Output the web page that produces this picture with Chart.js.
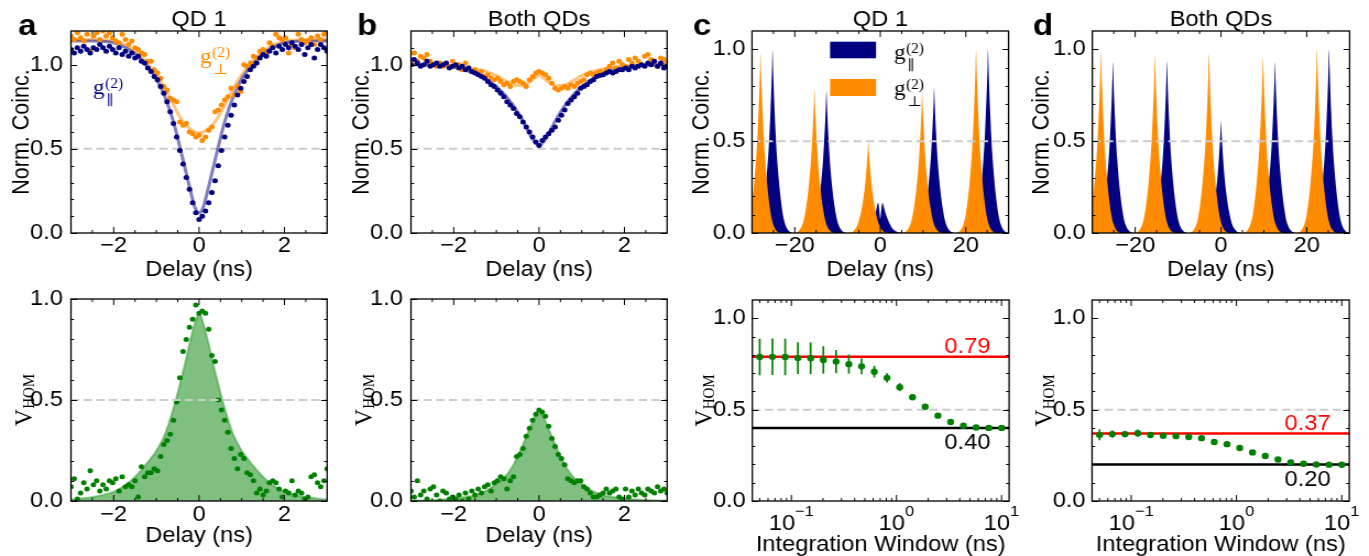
<!DOCTYPE html>
<html><head><meta charset="utf-8">
<script src="https://cdn.jsdelivr.net/npm/chart.js@4.4.1/dist/chart.umd.min.js"></script>
<style>
html,body{margin:0;padding:0;background:#fff;}
#wrap{position:relative;width:1369px;height:556px;overflow:hidden;background:#fff;}
canvas{position:absolute;}
</style></head><body><div id="wrap">
<canvas id="cA1" style="left:0px;top:0px;width:340px;height:282px" width="309" height="282"></canvas>
<canvas id="cB1" style="left:340px;top:0px;width:340px;height:282px" width="309" height="282"></canvas>
<canvas id="cC1" style="left:680px;top:0px;width:340px;height:282px" width="309" height="282"></canvas>
<canvas id="cD1" style="left:1020px;top:0px;width:349px;height:282px" width="317" height="282"></canvas>
<canvas id="cA2" style="left:0px;top:282px;width:340px;height:274px" width="309" height="274"></canvas>
<canvas id="cB2" style="left:340px;top:282px;width:340px;height:274px" width="309" height="274"></canvas>
<canvas id="cC2" style="left:680px;top:282px;width:340px;height:274px" width="309" height="274"></canvas>
<canvas id="cD2" style="left:1020px;top:282px;width:349px;height:274px" width="317" height="274"></canvas>
</div>
<script>
// ================= DATA =================
const delayNs = [-3,-2.925,-2.85,-2.775,-2.7,-2.625,-2.55,-2.475,-2.4,-2.325,-2.25,-2.175,-2.1,-2.025,-1.95,-1.875,-1.8,-1.725,-1.65,-1.575,-1.5,-1.425,-1.35,-1.275,-1.2,-1.125,-1.05,-0.975,-0.9,-0.825,-0.75,-0.675,-0.6,-0.525,-0.45,-0.375,-0.3,-0.225,-0.15,-0.075,0,0.075,0.15,0.225,0.3,0.375,0.45,0.525,0.6,0.675,0.75,0.825,0.9,0.975,1.05,1.125,1.2,1.275,1.35,1.425,1.5,1.575,1.65,1.725,1.8,1.875,1.95,2.025,2.1,2.175,2.25,2.325,2.4,2.475,2.55,2.625,2.7,2.775,2.85,2.925,3];

const qd1ParCoinc = [1.09,1.07,1.10,1.08,1.11,1.09,1.07,1.10,1.09,1.12, 1.10,1.08,1.11,1.09,1.07,1.10,1.06,1.08,1.05,1.07, 1.04,1.05,1.02,1.01,0.98,0.96,0.93,0.91,0.87,0.83, 0.78,0.72,0.65,0.57,0.49,0.41,0.33,0.26,0.18,0.12, 0.08, 0.10,0.13,0.18,0.24,0.31,0.40,0.49,0.57,0.64,0.70, 0.76,0.82,0.86,0.90,0.93,0.97,0.99,1.01,1.04,1.06, 1.05,1.08,1.10,1.07,1.11,1.09,1.12,1.10,1.13,1.11, 1.09,1.12,1.06,1.10,1.12,1.04,1.09,1.12,1.10,1.08];
const qd1PerpCoinc = [1.17,1.15,1.19,1.16,1.14,1.18,1.08,1.17,1.19,1.15, 1.20,1.17,1.19,1.16,1.14,1.13,1.18,1.15,1.12,1.14, 1.10,1.09,1.07,1.06,1.02,1.02,0.97,0.95,0.92,0.87, 0.85,0.80,0.79,0.78,0.66,0.64,0.65,0.60,0.59,0.57, 0.58, 0.55,0.57,0.61,0.63,0.72,0.73,0.76,0.79,0.81,0.86, 0.82,0.87,0.84,1.00,0.99,1.01,1.05,1.04,1.08,1.09, 1.06,1.13,1.11,1.18,1.16,1.15,1.16,1.07,1.12,1.10, 1.18,1.15,1.13,1.14,1.16,1.12,1.17,1.15,1.18,1.19];
const bothParCoinc = [1.00,1.03,1.01,0.99,1.00,1.02,0.99,1.00,1.01,0.99, 1.00,1.01,0.98,0.99,1.00,0.98,0.99,0.97,0.98,0.96, 0.95,0.94,0.93,0.92,0.90,0.88,0.87,0.85,0.83,0.81, 0.78,0.76,0.74,0.71,0.69,0.66,0.63,0.60,0.57,0.54, 0.52, 0.55,0.57,0.59,0.61,0.63,0.67,0.70,0.73,0.77,0.79, 0.81,0.83,0.86,0.87,0.88,0.90,0.91,0.93,0.935,0.94, 0.95,0.96,0.95,0.96,0.97,0.97,0.98,0.97,0.99,0.98, 0.99,1.00,0.99,1.01,1.00,1.02,0.99,1.01,0.98,0.99];
const bothPerpCoinc = [1.01,1.07,1.02,1.05,1.04,1.06,1.02,1.00,0.99,1.01, 0.99,1.00,0.99,1.02,0.99,1.00,0.97,1.01,0.98,0.96, 0.97,0.95,0.96,0.93,0.94,0.92,0.91,0.92,0.90,0.88, 0.89,0.87,0.90,0.91,0.90,0.89,0.87,0.91,0.93,0.95, 0.96, 0.95,0.94,0.92,0.89,0.86,0.85,0.86,0.87,0.86,0.88, 0.87,0.89,0.90,0.91,0.94,0.95,0.94,0.95,0.96,0.95, 0.97,0.99,1.01,0.98,1.02,1.00,0.99,1.03,1.01,1.04, 1.02,1.00,1.05,1.06,1.03,1.02,0.99,1.04,1.03,1.01];
const qd1Vhom = [0.07,0.11,0.01,0.04,0.09,0.06,0.15,0.08,0.10,0.05, 0.08,0.06,0.10,0.09,0.11,0.05,0.12,0.07,0.08,0.07, 0.10,0.02,0.17,0.12,0.14,0.14,0.16,0.15,0.22,0.28, 0.30,0.33,0.40,0.49,0.61,0.74,0.80,0.86,0.90,0.97, 0.93, 0.94,0.93,0.85,0.72,0.69,0.50,0.45,0.40,0.34,0.26, 0.21,0.16,0.23,0.21,0.14,0.13,0.10,0.04,0.06,0.03, 0.05,0.09,0.10,0.09,0.06,0.02,0.05,0.04,0.10,0.03, 0.05,0.04,0.01,0.02,0.12,0.13,0.09,0.07,0.10,0.16];
const bothVhom = [0.05,0.02,0.10,0.03,0.05,0.01,0.06,0.07,0.03,0.00, 0.05,0.04,0.01,0.02,0.01,0.03,0.00,0.04,0.01,0.05, 0.03,0.06,0.04,0.07,0.08,0.05,0.09,0.10,0.12,0.11, 0.06,0.10,0.12,0.22,0.23,0.26,0.32,0.36,0.40,0.43, 0.45, 0.44,0.42,0.37,0.31,0.27,0.23,0.21,0.18,0.11,0.10, 0.09,0.10,0.10,0.07,0.06,0.04,0.02,0.02,0.03,0.04, 0.06,0.04,0.05,0.06,0.02,0.01,0.06,0.02,0.05,0.03, 0.06,0.04,0.03,0.06,0.05,0.04,0.07,0.05,0.06,0.04];

const fitDelayNs = [-3,-2.5,-2,-1.75,-1.5,-1.25,-1,-0.8,-0.6,-0.4,-0.2,-0.1,0,0.1,0.2,0.4,0.6,0.8,1,1.25,1.5,1.75,2,2.5,3];
const qd1ParFit  = [1.14,1.14,1.13,1.105,1.065,1.0,0.915,0.81,0.66,0.46,0.25,0.155,0.12,0.155,0.25,0.46,0.66,0.81,0.915,1.0,1.065,1.105,1.13,1.14,1.14];
const qd1PerpFit = [1.15,1.15,1.14,1.12,1.08,1.02,0.94,0.86,0.76,0.67,0.615,0.60,0.595,0.60,0.615,0.67,0.76,0.86,0.94,1.02,1.08,1.12,1.14,1.15,1.15];
const bothParFit = [1.0,1.0,0.985,0.97,0.945,0.915,0.87,0.82,0.755,0.675,0.58,0.54,0.52,0.54,0.58,0.675,0.755,0.82,0.87,0.915,0.945,0.97,0.985,1.0,1.0];
const bothPerpFit= [1.0,1.0,0.99,0.985,0.975,0.96,0.935,0.905,0.88,0.875,0.9,0.92,0.935,0.92,0.9,0.875,0.88,0.905,0.935,0.96,0.975,0.985,0.99,1.0,1.0];
const qd1VhomFit = [0.008,0.02,0.046,0.075,0.12,0.18,0.25,0.33,0.46,0.62,0.80,0.88,0.93,0.88,0.80,0.62,0.46,0.33,0.25,0.18,0.12,0.075,0.046,0.02,0.008];
const bothVhomFit= [0.002,0.005,0.012,0.02,0.03,0.05,0.085,0.12,0.18,0.27,0.37,0.42,0.45,0.42,0.37,0.27,0.18,0.12,0.085,0.05,0.03,0.02,0.012,0.005,0.002];

// correlation histograms (panels c, d): peak profile
const peakOffsetNs = [-6,-5,-4,-3.5,-3,-2.5,-2,-1.5,-1,-0.75,-0.5,-0.25,-0.1,0,0.1,0.25,0.5,0.75,1,1.5,2,2.5,3,3.5,4,5,6];
const peakShape    = [0,0,0.007,0.02,0.045,0.09,0.17,0.28,0.43,0.53,0.66,0.81,0.92,1,0.92,0.81,0.66,0.53,0.43,0.28,0.17,0.09,0.045,0.02,0.007,0,0];
const perpPeakCenters = [-28.0,-15.4,-2.8,9.8,22.4];
const parPeakCenters  = [-25.2,-12.6,0,12.6,25.2];
const qd1PerpHeights  = [0.98,0.785,0.50,0.76,0.998];
const qd1ParSideCenters = [-25.2,-12.6,12.6,25.2];
const qd1ParSideHeights = [0.995,0.775,0.79,1.0];
const qd1CentralOffsetNs = [-6,-4,-3,-2,-1.5,-1,-0.75,-0.5,-0.25,0,0.25,0.5,0.75,1,1.5,2,3,4,6];
const qd1CentralValues   = [0,0.005,0.02,0.05,0.08,0.12,0.15,0.165,0.13,0.08,0.13,0.165,0.15,0.125,0.09,0.06,0.02,0.005,0];
const bothPerpHeights = [0.985,0.965,0.98,0.958,1.0];
const bothParHeights  = [0.93,0.935,0.61,0.93,1.0];

// integration window (panels c, d bottom)
const windowNs = [0.05,0.06608,0.08733,0.11542,0.15254,0.2016,0.26644,0.35213,0.46538,0.61505,0.81286,1.07429,1.4198,1.87643,2.47992,3.2775,4.33159,5.72469,7.5658,10];
const qd1VhomWin    = [0.788,0.789,0.788,0.782,0.781,0.772,0.763,0.749,0.737,0.708,0.674,0.623,0.568,0.516,0.467,0.432,0.412,0.402,0.400,0.400];
const qd1VhomWinErr = [0.10,0.10,0.10,0.087,0.087,0.075,0.063,0.052,0.043,0.032,0.025,0.022,0.015,0.01,0.008,0.006,0.005,0.004,0.004,0.004];
const bothVhomWin    = [0.362,0.366,0.366,0.371,0.361,0.357,0.355,0.350,0.344,0.323,0.311,0.290,0.266,0.246,0.227,0.211,0.204,0.200,0.199,0.198];
const bothVhomWinErr = [0.03,0.02,0.018,0.02,0.01,0.008,0.006,0.005,0.004,0.004,0.004,0.004,0.004,0.004,0.003,0.003,0.003,0.003,0.003,0.003];
const qd1Levels  = [0.79, 0.40];
const bothLevels = [0.37, 0.20];
const halfLevel = 0.5;

const coincTicks = [0, 0.5, 1.0];
const delayTicks = [-2, 0, 2];
const histTicks  = [-20, 0, 20];
const windowTicks = [0.1, 1, 10];
const windowTickExp = ['\u22121', '0', '1'];

// ================= STYLE / LAYOUT =================
// (canvases are drawn 1.1x narrower and stretched by CSS, like the reference picture)
const SANS = "'Liberation Sans', Arial, Helvetica, sans-serif";
const SERIF = "'Liberation Serif', 'DejaVu Serif', 'Times New Roman', serif";
const FS = 21.5;
Chart.defaults.font.family = SANS;
Chart.defaults.font.size = FS;
Chart.defaults.color = '#000';
const NAVY = '#000080', ORANGE = '#ff8c00', GREEN = '#008000';
const NAVY_FIT = 'rgba(0,0,128,0.5)', ORANGE_FIT = 'rgba(255,140,0,0.5)';
const DASH = '#cccccc';
const delayRange = [-3, 3], histRange = [-30, 30], windowRange = [0.0425, 11.8];

const xy = (xs, ys) => xs.map((x, i) => ({x, y: ys[i]}));
function peakTrain(centers, heights) {
  const pts = [];
  centers.forEach((c, k) => peakOffsetNs.forEach((o, j) => pts.push({x: c + o, y: heights[k] * peakShape[j]})));
  return pts;
}
const dots = (pts, color, r) => ({data: pts, showLine: false, pointRadius: r, pointBackgroundColor: color, pointBorderWidth: 0, borderColor: color, backgroundColor: color});
const curve = (pts, color, w) => ({data: pts, borderColor: color, borderWidth: w, pointRadius: 0, cubicInterpolationMode: 'monotone', fill: false});
const hline = (range, v, color, w, dash) => ({data: [{x: range[0], y: v}, {x: range[1], y: v}], borderColor: color, borderWidth: w, borderDash: dash || [], pointRadius: 0, fill: false});
const area = (pts, fillColor, lineColor, w) => ({data: pts, borderWidth: w, borderColor: lineColor, backgroundColor: fillColor, fill: 'origin', pointRadius: 0, cubicInterpolationMode: 'monotone'});

const fmtSigned = v => (v < 0 ? '\u2212' : '') + Math.abs(v);
const fmt1 = v => v.toFixed(1);

function zeroPad(s) { s.paddingLeft = s.paddingRight = s.paddingTop = s.paddingBottom = 0; }
function axis(range, tickVals, fmt, o) {
  return {
    type: o.log ? 'logarithmic' : 'linear', min: range[0], max: range[1],
    grid: {display: false, drawTicks: false}, border: {display: false},
    afterBuildTicks: s => { s.ticks = tickVals.map(v => ({value: v})); },
    ticks: {display: !o.hideLabels, callback: fmt, autoSkip: false, maxRotation: 0, minRotation: 0, padding: o.tickPad, font: {size: FS, lineHeight: 1}},
    title: o.title ? {display: true, text: o.title, font: {size: FS, lineHeight: 1}, padding: o.titlePad} : {display: false},
    afterFit: s => { if (s.isHorizontal()) s.height = o.size; else s.width = o.size; zeroPad(s); }
  };
}

const minorDelay = [-2.5,-1.5,-1,-0.5,0.5,1,1.5,2.5];
const minorHist = [-25,-15,-10,-5,5,10,15,25];
const minorLog = [0.05,0.06,0.07,0.08,0.09,0.2,0.3,0.4,0.5,0.6,0.7,0.8,0.9,2,3,4,5,6,7,8,9];
const minorY12 = [0.1,0.2,0.3,0.4,0.6,0.7,0.8,0.9,1.1];
const minorY10 = [0.1,0.2,0.3,0.4,0.6,0.7,0.8,0.9];

function framePlugin(spec) {
  return {
    id: 'frameTicks',
    afterDatasetsDraw(chart) {
      const {ctx, chartArea: a, scales: {x, y}} = chart;
      ctx.save();
      ctx.strokeStyle = '#000'; ctx.lineWidth = 1;
      const vt = (vals, len) => vals.forEach(v => {
        const p = x.getPixelForValue(v);
        ctx.beginPath(); ctx.moveTo(p, a.bottom); ctx.lineTo(p, a.bottom - len);
        ctx.moveTo(p, a.top); ctx.lineTo(p, a.top + len); ctx.stroke();
      });
      const ht = (vals, len) => vals.forEach(v => {
        const p = Math.round(y.getPixelForValue(v)) + 0.5;
        ctx.beginPath(); ctx.moveTo(a.left, p); ctx.lineTo(a.left + len, p);
        ctx.moveTo(a.right, p); ctx.lineTo(a.right - len, p); ctx.stroke();
      });
      vt(spec.xMaj, 6); vt(spec.xMin, 3); ht(spec.yMaj, 5.5); ht(spec.yMin, 2.8);
      ctx.lineWidth = 1.3;
      ctx.strokeRect(a.left, a.top, a.right - a.left, a.bottom - a.top);
      ctx.restore();
      if (spec.extra) { ctx.save(); spec.extra(chart); ctx.restore(); }
    }
  };
}

function head(title, letter, letterX) {
  return chart => {
    const {ctx, chartArea: a} = chart;
    ctx.fillStyle = '#000'; ctx.textBaseline = 'alphabetic';
    ctx.font = FS + 'px ' + SANS; ctx.textAlign = 'center';
    ctx.fillText(title, (a.left + a.right) / 2, 26);
    ctx.font = 'bold 30px ' + SANS; ctx.textAlign = 'left';
    ctx.fillText(letter, letterX, 35);
  };
}
function gLabel(ctx, x, y, sub, color) {
  ctx.fillStyle = color; ctx.textBaseline = 'alphabetic'; ctx.textAlign = 'left';
  ctx.font = '21px ' + SERIF;
  ctx.fillText('g', x, y);
  const w = ctx.measureText('g').width;
  ctx.font = '14px ' + SERIF;
  ctx.fillText('(2)', x + w + 0.5, y - 6.5);
  ctx.fillText(sub, x + w + 1.5, y + 10.5);
}
function vhomLabel(chart) {
  const {ctx, chartArea: a} = chart;
  const big = '24px ' + SERIF, small = '15px ' + SERIF;
  ctx.font = big; const wV = ctx.measureText('V').width;
  ctx.font = small; const wS = ctx.measureText('HOM').width;
  const cy = (a.top + a.bottom) / 2;
  ctx.save();
  ctx.fillStyle = '#000';
  ctx.translate(29, cy + (wV + wS) / 2);
  ctx.rotate(-Math.PI / 2);
  ctx.textBaseline = 'alphabetic'; ctx.textAlign = 'left';
  ctx.font = big; ctx.fillText('V', 0, 0);
  ctx.font = small; ctx.fillText('HOM', wV, 2);
  ctx.restore();
}
function logLabels(chart) {
  const {ctx, scales: {x}, chartArea: a} = chart;
  ctx.fillStyle = '#000'; ctx.textBaseline = 'alphabetic'; ctx.textAlign = 'left';
  windowTicks.forEach((v, i) => {
    ctx.font = FS + 'px ' + SANS; const wb = ctx.measureText('10').width;
    ctx.font = '15px ' + SANS; const we = ctx.measureText(windowTickExp[i]).width;
    const x0 = x.getPixelForValue(v) - (wb + we) / 2;
    ctx.font = FS + 'px ' + SANS; ctx.fillText('10', x0, a.bottom + 28.5);
    ctx.font = '15px ' + SANS; ctx.fillText(windowTickExp[i], x0 + wb, a.bottom + 14.5);
  });
}
function errBars(xs, ys, es) {
  return chart => {
    const {ctx, scales: {x, y}} = chart;
    ctx.strokeStyle = GREEN; ctx.lineWidth = 1.7;
    xs.forEach((xv, i) => {
      const px = x.getPixelForValue(xv);
      ctx.beginPath(); ctx.moveTo(px, y.getPixelForValue(ys[i] - es[i])); ctx.lineTo(px, y.getPixelForValue(ys[i] + es[i])); ctx.stroke();
    });
  };
}
function levelLabels(levels) {
  return chart => {
    const {ctx, chartArea: a, scales: {y}} = chart;
    ctx.font = FS + 'px ' + SANS; ctx.textAlign = 'right'; ctx.textBaseline = 'alphabetic';
    ctx.fillStyle = '#ff0000'; ctx.fillText(levels[0].toFixed(2), a.right - 17, y.getPixelForValue(levels[0]) - 3.5);
    ctx.fillStyle = '#000'; ctx.fillText(levels[1].toFixed(2), a.right - 17, y.getPixelForValue(levels[1]) + 21.5);
  };
}

function makeChart(id, cfg) {
  return new Chart(document.getElementById(id), {
    type: 'line',
    data: {datasets: cfg.datasets},
    options: {
      responsive: false, animation: false, events: [],
      layout: {padding: cfg.padding},
      plugins: {legend: {display: false}, tooltip: {enabled: false}, title: {display: false}},
      scales: {x: cfg.x, y: cfg.y},
      elements: {line: {tension: 0}}
    },
    plugins: [framePlugin(cfg.ticks)]
  });
}

const yTitle = {top: 9.7, bottom: 0};
const xDelayTop = () => axis(delayRange, delayTicks, fmtSigned, {tickPad: 2.2, title: 'Delay (ns)', titlePad: {top: 0, bottom: 1.2}, size: 49});
const xDelayBot = () => axis(delayRange, delayTicks, fmtSigned, {tickPad: 3.2, title: 'Delay (ns)', titlePad: {top: 0, bottom: 9.2}, size: 55});
const xHist = () => axis(histRange, histTicks, fmtSigned, {tickPad: 2.2, title: 'Delay (ns)', titlePad: {top: 0, bottom: 1.2}, size: 49});
const xWin = () => axis(windowRange, windowTicks, v => v, {log: true, hideLabels: true, tickPad: 0, title: 'Integration Window (ns)', titlePad: {top: 0, bottom: 0}, size: 55});

// ---- a (top) ----
makeChart('cA1', {
  padding: {left: 0, top: 31, right: 11.7, bottom: 0},
  x: xDelayTop(),
  y: axis([0, 1.2], coincTicks, fmt1, {tickPad: 7.3, title: 'Norm. Coinc.', titlePad: yTitle, size: 64.5}),
  datasets: [
    dots(xy(delayNs, qd1ParCoinc), NAVY, 2.5),
    dots(xy(delayNs, qd1PerpCoinc), ORANGE, 2.5),
    curve(xy(fitDelayNs, qd1ParFit), NAVY_FIT, 3),
    curve(xy(fitDelayNs, qd1PerpFit), ORANGE_FIT, 3),
    hline(delayRange, halfLevel, DASH, 2, [7.5, 4])
  ],
  ticks: {xMaj: delayTicks, xMin: minorDelay, yMaj: coincTicks, yMin: minorY12,
    extra: chart => {
      head('QD 1', 'a', 16.4)(chart);
      const a = chart.chartArea;
      gLabel(chart.ctx, a.left + 20, a.top + 63, '\u2225', NAVY);
      gLabel(chart.ctx, a.left + 117.3, a.top + 32, '\u22A5', ORANGE);
    }}
});
// ---- b (top) ----
makeChart('cB1', {
  padding: {left: 0, top: 31, right: 11.7, bottom: 0},
  x: xDelayTop(),
  y: axis([0, 1.2], coincTicks, fmt1, {tickPad: 7.3, title: 'Norm. Coinc.', titlePad: yTitle, size: 64.5}),
  datasets: [
    dots(xy(delayNs, bothParCoinc), NAVY, 2.5),
    dots(xy(delayNs, bothPerpCoinc), ORANGE, 2.5),
    curve(xy(fitDelayNs, bothParFit), NAVY_FIT, 3),
    curve(xy(fitDelayNs, bothPerpFit), ORANGE_FIT, 3),
    hline(delayRange, halfLevel, DASH, 2, [7.5, 4])
  ],
  ticks: {xMaj: delayTicks, xMin: minorDelay, yMaj: coincTicks, yMin: minorY12, extra: head('Both QDs', 'b', 15.5)}
});
// ---- c (top) ----
const qd1ParTrain = peakTrain(qd1ParSideCenters, qd1ParSideHeights).concat(xy(qd1CentralOffsetNs, qd1CentralValues)).sort((p, q) => p.x - q.x);
makeChart('cC1', {
  padding: {left: 0, top: 31, right: 10.4, bottom: 0},
  x: xHist(),
  y: axis([0, 1.1], coincTicks, fmt1, {tickPad: 5.9, title: 'Norm. Coinc.', titlePad: yTitle, size: 65.45}),
  datasets: [
    hline(histRange, halfLevel, DASH, 2, [7.5, 4]),
    area(peakTrain(perpPeakCenters, qd1PerpHeights), ORANGE, ORANGE, 0),
    area(qd1ParTrain, NAVY, NAVY, 0)
  ],
  ticks: {xMaj: histTicks, xMin: minorHist, yMaj: coincTicks, yMin: minorY10,
    extra: chart => {
      head('QD 1', 'c', 11.8)(chart);
      const {ctx, chartArea: a} = chart;
      ctx.fillStyle = NAVY; ctx.fillRect(a.left + 70.9, a.top + 10.7, 41.8, 16.6);
      ctx.fillStyle = ORANGE; ctx.fillRect(a.left + 70.9, a.top + 48, 41.8, 17);
      gLabel(ctx, a.left + 129, a.top + 28, '\u2225', '#000');
      gLabel(ctx, a.left + 129, a.top + 64, '\u22A5', '#000');
    }}
});
// ---- d (top) ----
makeChart('cD1', {
  padding: {left: 0, top: 31, right: 17.6, bottom: 0},
  x: xHist(),
  y: axis([0, 1.1], coincTicks, fmt1, {tickPad: 5.9, title: 'Norm. Coinc.', titlePad: yTitle, size: 65.7}),
  datasets: [
    hline(histRange, halfLevel, DASH, 2, [7.5, 4]),
    area(peakTrain(perpPeakCenters, bothPerpHeights), ORANGE, ORANGE, 0),
    area(peakTrain(parPeakCenters, bothParHeights), NAVY, NAVY, 0)
  ],
  ticks: {xMaj: histTicks, xMin: minorHist, yMaj: coincTicks, yMin: minorY10, extra: head('Both QDs', 'd', 11.8)}
});
// ---- a (bottom) ----
makeChart('cA2', {
  padding: {left: 0, top: 17, right: 11.7, bottom: 0},
  x: xDelayBot(),
  y: axis([0, 1.0], coincTicks, fmt1, {tickPad: 7.3, size: 64.5}),
  datasets: [
    hline(delayRange, halfLevel, DASH, 2, [7.5, 4]),
    dots(xy(delayNs, qd1Vhom), GREEN, 2.5),
    area(xy(fitDelayNs, qd1VhomFit), 'rgba(0,128,0,0.5)', 'rgba(0,128,0,0.35)', 2)
  ],
  ticks: {xMaj: delayTicks, xMin: minorDelay, yMaj: coincTicks, yMin: minorY10, extra: vhomLabel}
});
// ---- b (bottom) ----
makeChart('cB2', {
  padding: {left: 0, top: 17, right: 11.7, bottom: 0},
  x: xDelayBot(),
  y: axis([0, 1.0], coincTicks, fmt1, {tickPad: 7.3, size: 64.5}),
  datasets: [
    hline(delayRange, halfLevel, DASH, 2, [7.5, 4]),
    dots(xy(delayNs, bothVhom), GREEN, 2.5),
    area(xy(fitDelayNs, bothVhomFit), 'rgba(0,128,0,0.5)', 'rgba(0,128,0,0.35)', 2)
  ],
  ticks: {xMaj: delayTicks, xMin: minorDelay, yMaj: coincTicks, yMin: minorY10, extra: vhomLabel}
});
// ---- c (bottom) ----
makeChart('cC2', {
  padding: {left: 0, top: 18, right: 9.9, bottom: 0},
  x: xWin(),
  y: axis([0, 1.1], coincTicks, fmt1, {tickPad: 5.9, size: 65.7}),
  datasets: [
    dots(xy(windowNs, qd1VhomWin), GREEN, 3.2),
    hline(windowRange, qd1Levels[0], '#ff0000', 2.5),
    hline(windowRange, qd1Levels[1], '#000000', 2.5),
    hline(windowRange, halfLevel, DASH, 2, [7.5, 4])
  ],
  ticks: {xMaj: windowTicks, xMin: minorLog, yMaj: coincTicks, yMin: minorY10,
    extra: chart => { errBars(windowNs, qd1VhomWin, qd1VhomWinErr)(chart); vhomLabel(chart); logLabels(chart); levelLabels(qd1Levels)(chart); }}
});
// ---- d (bottom) ----
makeChart('cD2', {
  padding: {left: 0, top: 18, right: 17.9, bottom: 0},
  x: xWin(),
  y: axis([0, 1.1], coincTicks, fmt1, {tickPad: 5.9, size: 65.45}),
  datasets: [
    dots(xy(windowNs, bothVhomWin), GREEN, 3.2),
    hline(windowRange, bothLevels[0], '#ff0000', 2.5),
    hline(windowRange, bothLevels[1], '#000000', 2.5),
    hline(windowRange, halfLevel, DASH, 2, [7.5, 4])
  ],
  ticks: {xMaj: windowTicks, xMin: minorLog, yMaj: coincTicks, yMin: minorY10,
    extra: chart => { errBars(windowNs, bothVhomWin, bothVhomWinErr)(chart); vhomLabel(chart); logLabels(chart); levelLabels(bothLevels)(chart); }}
});
</script></body></html>
